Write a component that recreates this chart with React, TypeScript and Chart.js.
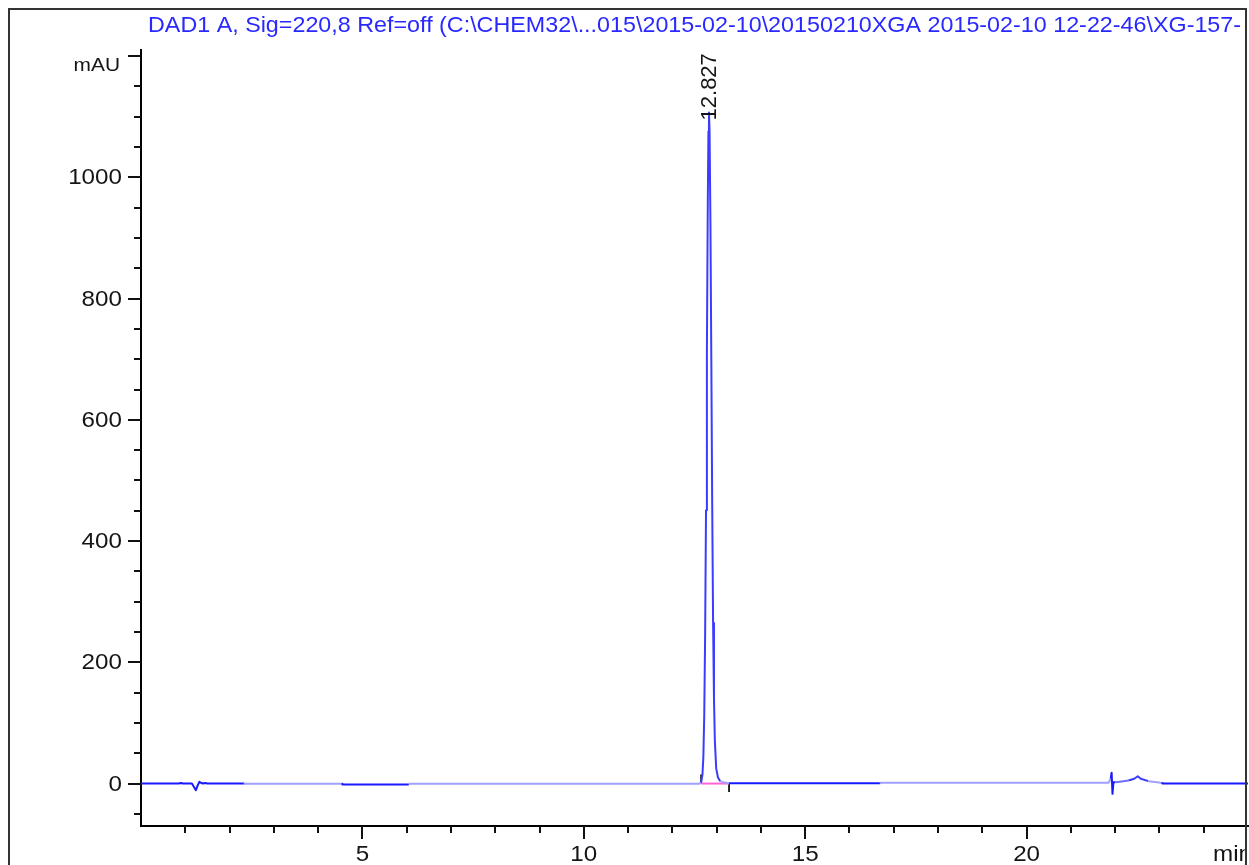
import React, { useEffect, useRef } from 'react';
import { Chart, registerables } from 'chart.js';

Chart.register(...registerables);

// ---- data ----
const TITLE = 'DAD1 A, Sig=220,8 Ref=off (C:\\CHEM32\\...015\\2015-02-10\\20150210XGA 2015-02-10 12-22-46\\XG-157-';

const traceTimes = [
  0, 0.85, 0.9, 0.95, 1.15, 1.2, 1.24, 1.28, 1.32, 1.36, 1.4, 1.45, 1.5,
  2.33, 2.34, 4.54, 4.55, 6.05, 6.06, 12.6, 12.65, 12.68, 12.7, 12.72, 12.74,
  12.76, 12.78, 12.8, 12.815, 12.827, 12.84, 12.86, 12.88, 12.9, 12.92, 12.94,
  12.96, 12.99, 13.03, 13.08, 13.15, 13.28, 16.69, 16.7, 21.85, 21.9, 21.92,
  21.94, 21.96, 22.0, 22.1, 22.3, 22.43, 22.51, 22.58, 22.75, 22.95, 23.06,
  23.07, 25,
];
const traceValues = [
  0, 0, 1, 0, 0, -6, -11, -3, 3, 1, 0, 1, 0,
  0, -0.5, -0.5, -1.5, -1.5, -0.5, -0.5, 2, 15, 44, 112, 244,
  451, 711, 957, 1076, 1107, 1076, 925, 696, 459, 265, 140,
  70, 25, 10, 4, 2, 0.5, 0.5, 1.5, 1.5, 8, 18,
  -17, 2, 2, 3, 5, 8, 12, 8, 4, 2, 1,
  0, 0,
];

const peakTime = 12.827;
const peakHeight = 1107;
const peakLabel = '12.827';
const integrationStart = 12.65;
const integrationEnd = 13.28;

const yTickValues = [
  -50, 0, 50, 100, 150, 200, 250, 300, 350, 400, 450, 500, 550, 600, 650,
  700, 750, 800, 850, 900, 950, 1000, 1050, 1100, 1150, 1200,
];
const yLabelValues = [0, 200, 400, 600, 800, 1000];
const yUnitValue = 1200;
const yUnitLabel = 'mAU';
const xTickValues = [
  1, 2, 3, 4, 5, 6, 7, 8, 9, 10, 11, 12, 13, 14, 15, 16, 17, 18, 19, 20, 21,
  22, 23, 24,
];
const xLabelValues = [5, 10, 15, 20];
const xUnitValue = 25;
const xUnitLabel = 'min';

// trace shading ranges (start time -> shade)
const shadeStarts = [0, 2.33, 4.54, 6.05, 12.65, 13.05, 13.28, 16.69, 21.88, 21.97, 22.3, 22.75, 23.06];
const shadeKinds = ['dark', 'light', 'dark', 'light', 'peak', 'light', 'dark', 'light', 'dark', 'mid', 'peak', 'light', 'dark'];
const SHADES: Record<string, string> = {
  dark: 'rgb(25,25,255)',
  light: 'rgb(160,160,255)',
  mid: 'rgb(110,110,255)',
  peak: 'rgb(60,60,255)',
};

function shadeAt(t: number): string {
  let k = shadeKinds[0];
  for (let i = 0; i < shadeStarts.length; i++) {
    if (t >= shadeStarts[i] - 1e-9) k = shadeKinds[i];
  }
  return SHADES[k];
}

const FONT = "'Liberation Sans', Arial, sans-serif";
const SX = 1.1;

function drawText(
  ctx: CanvasRenderingContext2D,
  text: string,
  x: number,
  y: number,
  align: CanvasTextAlign,
  baseline: CanvasTextBaseline,
  size: number,
  color: string,
  sx = SX,
) {
  ctx.save();
  ctx.translate(x, y);
  ctx.scale(sx, 1);
  ctx.font = `${size}px ${FONT}`;
  ctx.fillStyle = color;
  ctx.textAlign = align;
  ctx.textBaseline = baseline;
  ctx.fillText(text, 0, 0);
  ctx.restore();
}

const W = 1249;
const H = 865;
const FRAME_L = 9;
const FRAME_T = 9;
const FRAME_R = 1246;

const decorPlugin = {
  id: 'decor',
  beforeDraw(chart: any) {
    const ctx = chart.ctx as CanvasRenderingContext2D;
    ctx.save();
    ctx.fillStyle = '#fff';
    ctx.fillRect(0, 0, chart.width, chart.height);
    ctx.restore();
  },
  afterDraw(chart: any) {
    const ctx = chart.ctx as CanvasRenderingContext2D;
    const xs = chart.scales.x;
    const ys = chart.scales.y;
    const area = chart.chartArea;

    // tick marks
    ctx.save();
    ctx.strokeStyle = '#111';
    ctx.lineWidth = 2;
    ctx.beginPath();
    for (const v of yTickValues) {
      const y = Math.round(ys.getPixelForValue(v));
      const major = yLabelValues.includes(v) || v === yUnitValue;
      const len = major ? 13 : 7;
      ctx.moveTo(area.left - len, y);
      ctx.lineTo(area.left, y);
    }
    for (const v of xTickValues) {
      const x = Math.round(xs.getPixelForValue(v));
      const major = xLabelValues.includes(v);
      const len = major ? 13 : 7;
      ctx.moveTo(x, area.bottom);
      ctx.lineTo(x, area.bottom + len);
    }
    ctx.stroke();
    ctx.restore();

    // tick labels
    for (const v of yLabelValues) {
      drawText(ctx, String(v), area.left - 19, ys.getPixelForValue(v) + 1, 'right', 'middle', 22, '#151515');
    }
    drawText(ctx, yUnitLabel, area.left - 21, ys.getPixelForValue(yUnitValue) + 9.5, 'right', 'middle', 19, '#151515');

    ctx.save();
    ctx.beginPath();
    ctx.rect(0, 0, FRAME_R, H);
    ctx.clip();
    for (const v of xLabelValues) {
      drawText(ctx, String(v), xs.getPixelForValue(v), area.bottom + 29, 'center', 'middle', 22, '#151515');
    }
    drawText(ctx, xUnitLabel, xs.getPixelForValue(xUnitValue) - 35, area.bottom + 29, 'left', 'middle', 22, '#151515');
    ctx.restore();

    // title (clipped to frame)
    ctx.save();
    ctx.beginPath();
    ctx.rect(FRAME_L, FRAME_T, FRAME_R - FRAME_L, H);
    ctx.clip();
    drawText(ctx, TITLE, 148, 32, 'left', 'alphabetic', 21.2, 'rgb(40,40,255)');
    ctx.restore();

    // peak label (rotated)
    const px = xs.getPixelForValue(peakTime);
    const py = ys.getPixelForValue(peakHeight);
    ctx.save();
    ctx.translate(px + 1, py + 8);
    ctx.rotate(-Math.PI / 2);
    ctx.font = `22px ${FONT}`;
    ctx.fillStyle = '#151515';
    ctx.textAlign = 'left';
    ctx.textBaseline = 'middle';
    ctx.fillText(peakLabel, 0, 0);
    ctx.restore();

    // outer frame
    ctx.save();
    ctx.strokeStyle = '#333';
    ctx.lineWidth = 2;
    ctx.beginPath();
    ctx.moveTo(FRAME_L, H + 2);
    ctx.lineTo(FRAME_L, FRAME_T);
    ctx.lineTo(FRAME_R, FRAME_T);
    ctx.lineTo(FRAME_R, H + 2);
    ctx.stroke();
    ctx.restore();
  },
};

export default function App() {
  const ref = useRef<HTMLCanvasElement | null>(null);

  useEffect(() => {
    const canvas = ref.current;
    if (!canvas) return;
    const trace = traceTimes.map((t, i) => ({ x: t, y: traceValues[i] }));
    const chart = new Chart(canvas, {
      type: 'line',
      data: {
        datasets: [
          {
            data: trace,
            borderColor: SHADES.dark,
            borderWidth: 2,
            pointRadius: 0,
            tension: 0,
            borderJoinStyle: 'round',
            segment: {
              borderColor: (c: any) => shadeAt(c.p0.parsed.x),
            },
          } as any,
          {
            data: [
              { x: integrationStart, y: 0 },
              { x: integrationEnd, y: 0 },
            ],
            borderColor: 'rgb(255,100,215)',
            borderWidth: 2,
            pointRadius: 0,
          },
          {
            data: [
              { x: integrationStart, y: 0 },
              { x: integrationStart, y: 15 },
            ],
            borderColor: '#111',
            borderWidth: 1.8,
            pointRadius: 0,
          },
          {
            data: [
              { x: integrationEnd, y: 0 },
              { x: integrationEnd, y: -14 },
            ],
            borderColor: '#111',
            borderWidth: 1.8,
            pointRadius: 0,
          },
        ],
      },
      options: {
        responsive: false,
        animation: false,
        devicePixelRatio: 1,
        layout: { padding: { top: 50, right: 1, left: 0, bottom: 0 } },
        plugins: {
          legend: { display: false },
          tooltip: { enabled: false },
          title: { display: false },
        },
        events: [],
        scales: {
          x: {
            type: 'linear',
            min: 0,
            max: 25,
            grid: { display: false },
            border: { display: true, color: '#000', width: 2 },
            ticks: { display: false },
            afterBuildTicks: (s: any) => {
              s.ticks = xTickValues.map((v) => ({ value: v }));
            },
            afterFit: (s: any) => {
              s.height = 39;
            },
          },
          y: {
            type: 'linear',
            min: -70,
            max: 1210,
            grid: { display: false },
            border: { display: true, color: '#000', width: 2 },
            ticks: { display: false },
            afterBuildTicks: (s: any) => {
              s.ticks = yTickValues.map((v) => ({ value: v }));
            },
            afterFit: (s: any) => {
              s.width = 141;
            },
          },
        },
      },
      plugins: [decorPlugin],
    });
    return () => chart.destroy();
  }, []);

  return (
    <div style={{ position: 'fixed', left: 0, top: 0, width: W, height: H, background: '#fff' }}>
      <canvas ref={ref} width={W} height={H} style={{ display: 'block', width: W, height: H }} />
    </div>
  );
}
